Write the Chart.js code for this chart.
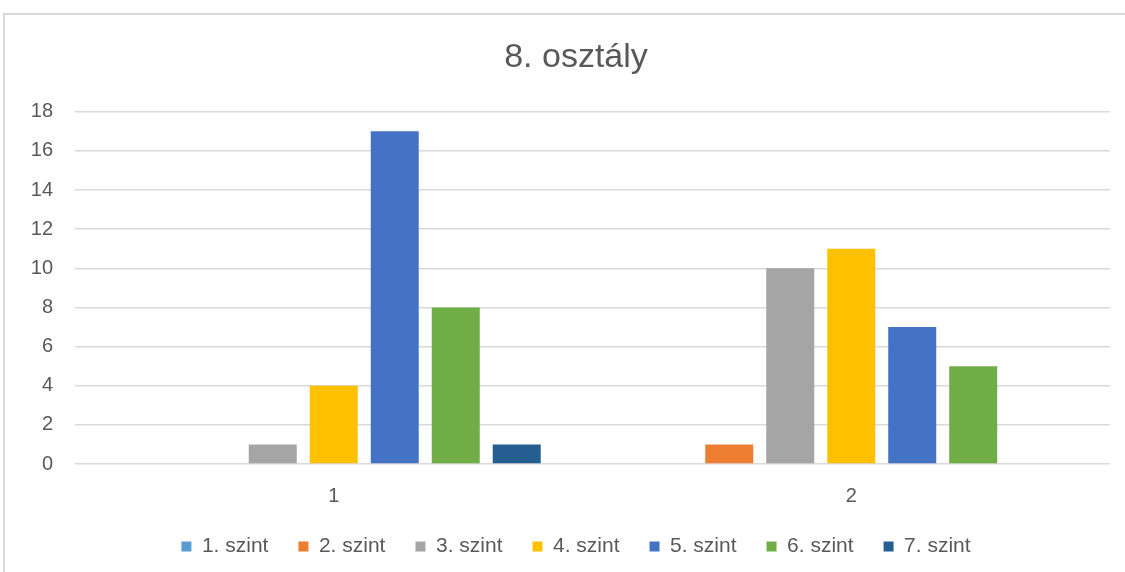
<!DOCTYPE html>
<html>
<head>
<meta charset="utf-8">
<script src="https://cdn.jsdelivr.net/npm/chart.js@4"></script>
<style>
  body { margin: 0; background: #fff; overflow: hidden; }
  #frame { position: absolute; left: 3px; top: 13px; width: 1200px; height: 700px; border: 2px solid #d9d9d9; }
  #wrap { position: absolute; left: 0; top: 0; width: 1152px; height: 572px; }
</style>
</head>
<body>
<div id="frame"></div>
<div id="wrap"><canvas id="chart"></canvas></div>
<script>
const categories = ['1', '2'];
const seriesNames = ['1. szint', '2. szint', '3. szint', '4. szint', '5. szint', '6. szint', '7. szint'];
const szint1 = [0, 0];
const szint2 = [0, 1];
const szint3 = [1, 10];
const szint4 = [4, 11];
const szint5 = [17, 7];
const szint6 = [8, 5];
const szint7 = [1, 0];
const seriesColors = ['#5B9BD5', '#ED7D31', '#A5A5A5', '#FFC000', '#4472C4', '#70AD47', '#255E91'];

const values = [szint1, szint2, szint3, szint4, szint5, szint6, szint7];
const textColor = '#595959';
const fontFamily = '"Liberation Sans", Arial, sans-serif';

new Chart(document.getElementById('chart').getContext('2d'), {
  type: 'bar',
  data: {
    labels: categories,
    datasets: seriesNames.map((name, i) => ({
      label: name,
      data: values[i],
      backgroundColor: seriesColors[i],
      borderWidth: 0,
      categoryPercentage: 0.825,
      barPercentage: 0.787
    }))
  },
  options: {
    responsive: true,
    maintainAspectRatio: false,
    animation: false,
    layout: { padding: { left: 0, right: 0, top: 0, bottom: 5 } },
    plugins: {
      title: {
        display: true,
        text: '8. osztály',
        color: textColor,
        font: { family: fontFamily, size: 34, weight: 'normal' },
        padding: { top: 37, bottom: 34 }
      },
      legend: {
        position: 'bottom',
        labels: {
          color: textColor,
          font: { family: fontFamily, size: 21 },
          boxWidth: 10,
          boxHeight: 10,
          padding: 30
        }
      },
      tooltip: { enabled: false }
    },
    scales: {
      x: {
        afterFit: (scale) => { scale.height = 42; },
        grid: { display: false },
        border: { display: false },
        ticks: { color: textColor, font: { family: fontFamily, size: 20 }, padding: 12 }
      },
      y: {
        min: 0,
        max: 18,
        afterFit: (scale) => { scale.width = 75; },
        grid: { color: '#d9d9d9', lineWidth: 1.5, drawTicks: false, tickLength: 0 },
        border: { display: false },
        ticks: { stepSize: 2, color: textColor, font: { family: fontFamily, size: 20 }, padding: 22 }
      },
      // empty spacer on the right so the plot ends where the reference does
      spacer: {
        type: 'linear',
        position: 'right',
        afterFit: (scale) => { scale.width = 42; },
        grid: { display: false },
        border: { display: false },
        ticks: { display: false }
      }
    }
  }
});
</script>
</body>
</html>
